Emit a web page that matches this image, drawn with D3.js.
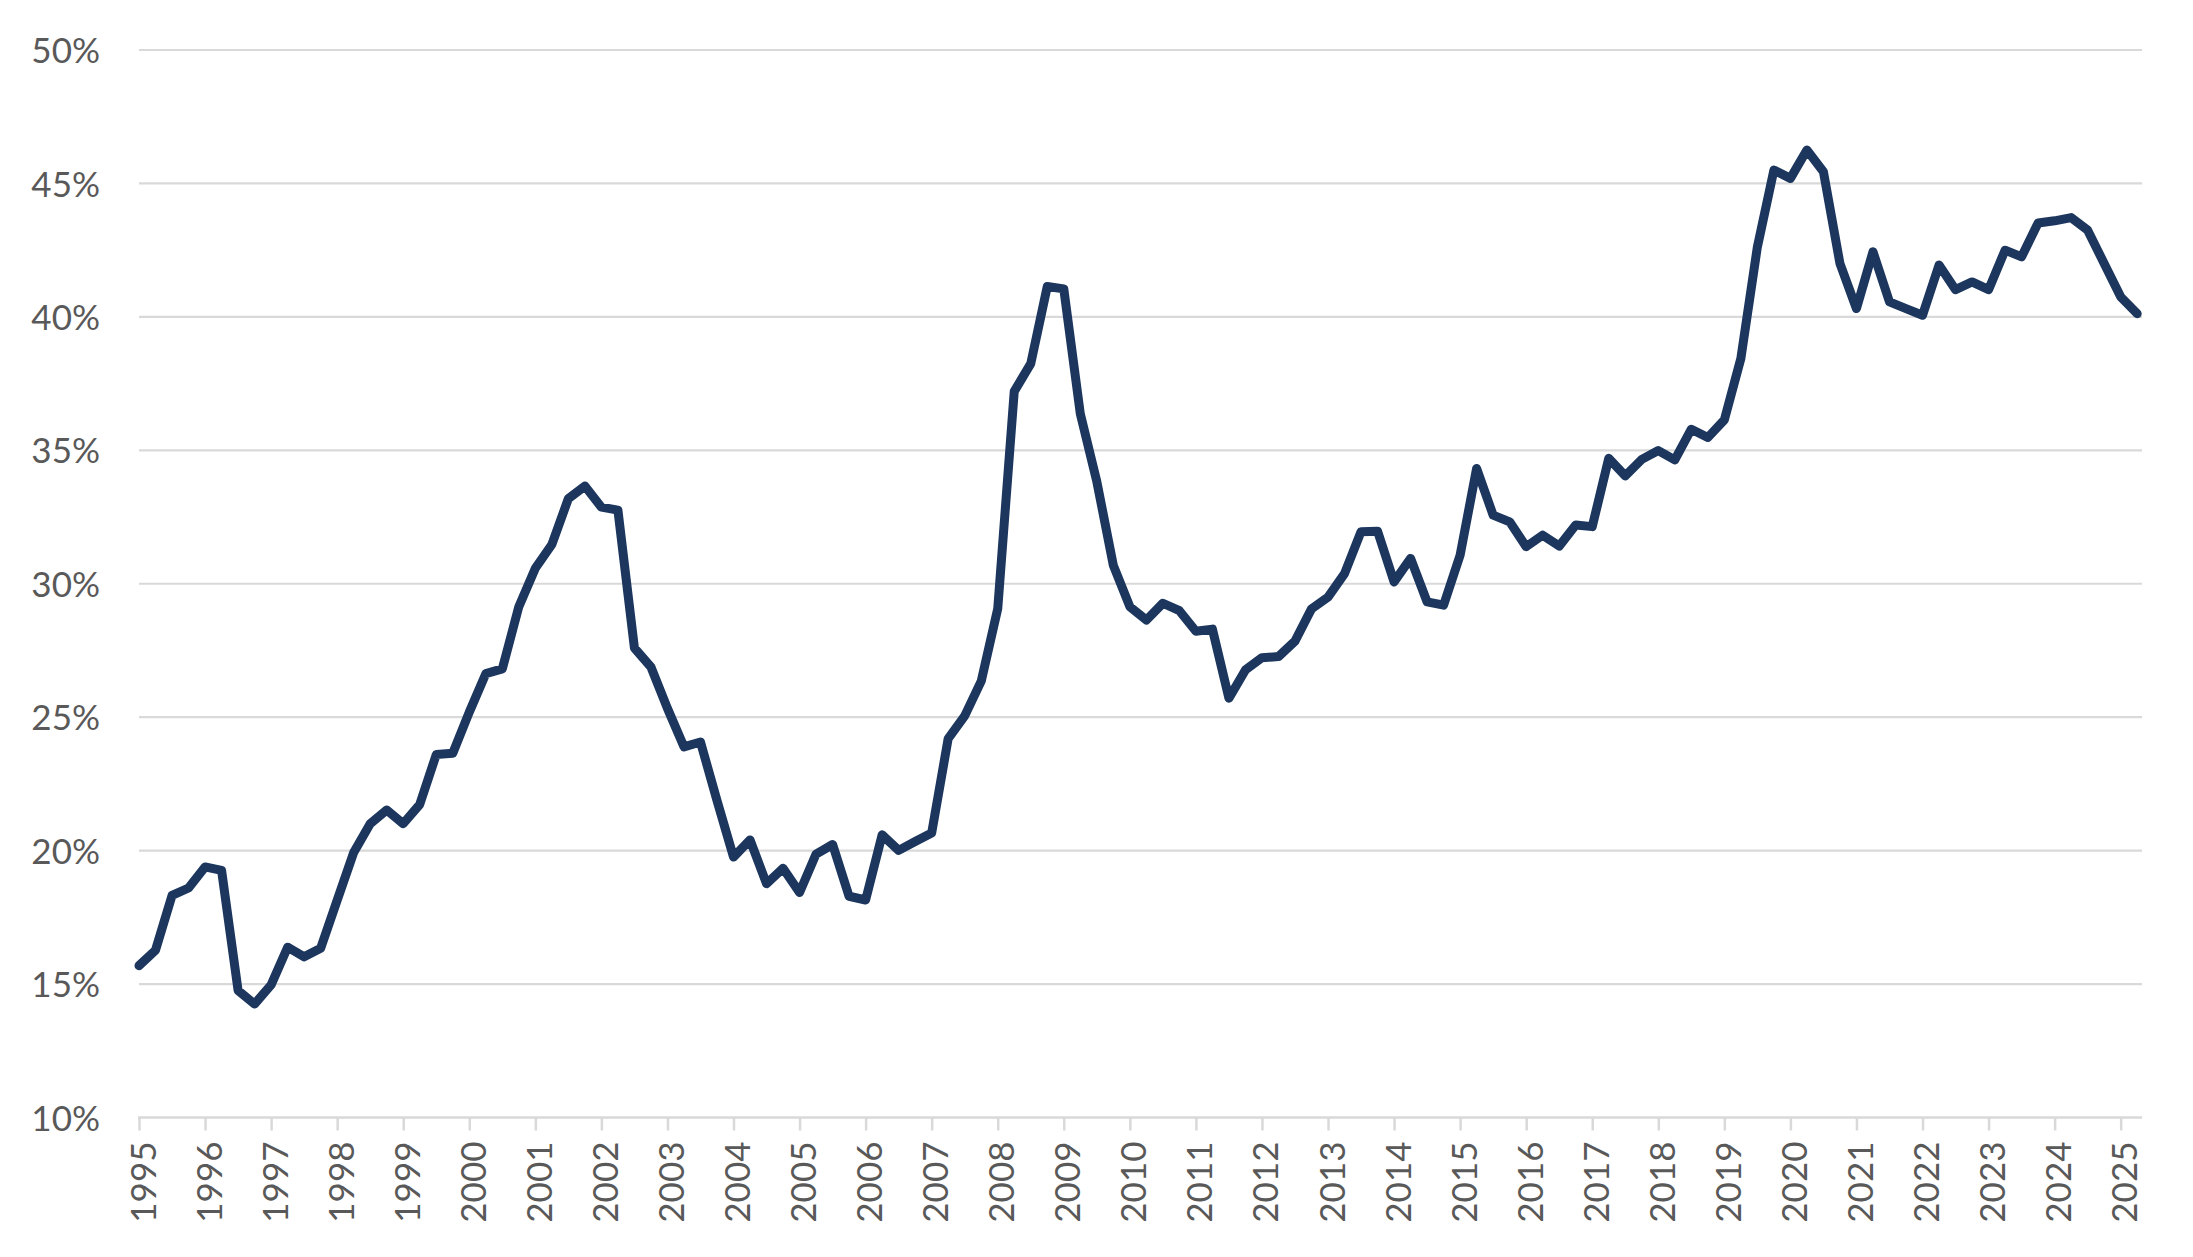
<!DOCTYPE html>
<html>
<head>
<meta charset="utf-8">
<script src="https://cdn.jsdelivr.net/npm/d3@7/dist/d3.min.js"></script>
<style>
  html, body { margin: 0; padding: 0; background: #ffffff; }
  svg { display: block; }
  text { font-family: Lato, "Open Sans", sans-serif; fill: #595959; }
</style>
</head>
<body>
<svg id="chart" width="2193" height="1257"></svg>
<script>
// Quarterly share (%), 1995 Q1 .. 2025 Q2
const startYear = 1995;
const quarterCount = 122;
const categories = Array.from({length: quarterCount}, (_, i) =>
  `${startYear + Math.floor(i / 4)} Q${(i % 4) + 1}`);

const values = [
  15.69, 16.27, 18.32, 18.60, 19.39, 19.26, 14.76, 14.25,   // 1995-1996
  14.97, 16.38, 16.02, 16.34, 18.14, 19.93, 21.01, 21.52,   // 1997-1998
  21.01, 21.73, 23.60, 23.65, 25.19, 26.63, 26.81, 29.14,   // 1999-2000
  30.58, 31.47, 33.19, 33.66, 32.87, 32.76, 27.59, 26.88,   // 2001-2002
  25.33, 23.89, 24.07, 21.88, 19.76, 20.40, 18.76, 19.34,   // 2003-2004
  18.43, 19.87, 20.23, 18.29, 18.15, 20.59, 20.01, 20.34,   // 2005-2006
  20.66, 24.20, 25.05, 26.35, 29.06, 37.21, 38.25, 41.14,   // 2007-2008
  41.05, 36.37, 33.83, 30.69, 29.14, 28.64, 29.27, 28.99,   // 2009-2010
  28.22, 28.30, 25.71, 26.77, 27.23, 27.27, 27.85, 29.06,   // 2011-2012
  29.50, 30.38, 31.95, 31.97, 30.07, 30.95, 29.32, 29.20,   // 2013-2014
  31.07, 34.32, 32.57, 32.32, 31.39, 31.82, 31.41, 32.20,   // 2015-2016
  32.14, 34.70, 34.04, 34.66, 34.99, 34.64, 35.79, 35.48,   // 2017-2018
  36.14, 38.44, 42.62, 45.50, 45.19, 46.25, 45.44, 42.00,   // 2019-2020
  40.31, 42.44, 40.56, 40.31, 40.06, 41.94, 41.02, 41.31,   // 2021-2022
  41.02, 42.50, 42.25, 43.52, 43.60, 43.72, 43.25, 42.00,   // 2023-2024
  40.75, 40.12                                              // 2025
];

const yTicks = [10, 15, 20, 25, 30, 35, 40, 45, 50];
const yearLabels = Array.from({length: 31}, (_, i) => String(startYear + i));

const svg = d3.select("#chart");
svg.append("rect").attr("width", 2193).attr("height", 1257).attr("fill", "#ffffff");

const plotLeft = 139, plotRight = 2142, step = 16.514;
const x = d3.scalePoint()
  .domain(categories)
  .range([plotLeft, plotLeft + step * (quarterCount - 1)]);
const y = d3.scaleLinear().domain([10, 50]).range([1117.5, 50]);

// Gridlines
svg.append("g")
  .selectAll("line")
  .data(yTicks.filter(t => t > 10))
  .join("line")
  .attr("x1", plotLeft).attr("x2", plotRight)
  .attr("y1", d => y(d)).attr("y2", d => y(d))
  .attr("stroke", "#d9d9d9").attr("stroke-width", 2.2);

// Y axis labels
const yAxis = d3.axisLeft(y).tickValues(yTicks).tickFormat(d => d + "%").tickSize(0).tickPadding(0);
const gy = svg.append("g").attr("transform", "translate(100,0)").call(yAxis);
gy.select(".domain").remove();
gy.selectAll("text")
  .attr("x", 0).attr("dy", null).attr("y", 12.6)
  .attr("text-anchor", "end")
  .style("font-family", "Lato, 'Open Sans', sans-serif")
  .style("font-size", "35px").attr("fill", "#595959");

// X axis
const q1 = categories.filter((c, i) => i % 4 === 0);
const xAxis = d3.axisBottom(x).tickValues(q1).tickFormat(c => c.slice(0, 4)).tickSize(13).tickSizeOuter(0);
const gx = svg.append("g").attr("transform", "translate(0,1117.5)").call(xAxis);
gx.select(".domain").remove();
gx.append("line").attr("x1", plotLeft - 1).attr("x2", plotRight).attr("y1", 0).attr("y2", 0)
  .attr("stroke", "#d9d9d9").attr("stroke-width", 2.5);
gx.selectAll(".tick line").attr("stroke", "#d9d9d9").attr("stroke-width", 2.5);
gx.selectAll(".tick text")
  .attr("transform", "rotate(-90)")
  .attr("text-anchor", "end")
  .attr("x", -24).attr("y", 16).attr("dy", null)
  .style("font-family", "Lato, 'Open Sans', sans-serif")
  .style("font-size", "35px").attr("fill", "#595959");

// Line
const line = d3.line().x((d, i) => x(categories[i])).y(d => y(d));
svg.append("path")
  .datum(values)
  .attr("d", line)
  .attr("fill", "none")
  .attr("stroke", "#1c365e")
  .attr("stroke-width", 9)
  .attr("stroke-linejoin", "round")
  .attr("stroke-linecap", "round");
</script>
</body>
</html>
